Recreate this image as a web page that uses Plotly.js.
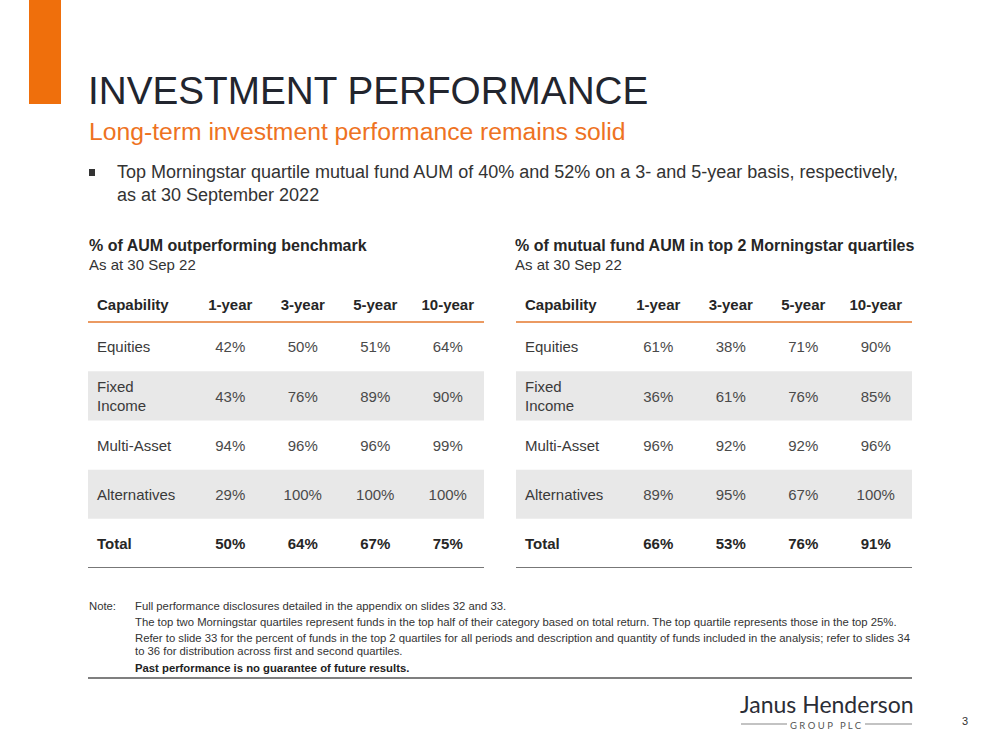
<!DOCTYPE html>
<html><head><meta charset="utf-8">
<script src="https://cdn.plot.ly/plotly-3.0.1.min.js"></script>
<style>html,body{margin:0;padding:0;background:#fff}</style>
</head><body><div id="chart" style="width:999px;height:750px"></div>
<script>
// ---- data ----
const capabilities = ["Equities", "Fixed<br>Income", "Multi-Asset", "Alternatives", "Total"];
const periods = ["1-year", "3-year", "5-year", "10-year"];
const firstHeader = "Capability";
// % of AUM outperforming benchmark
const aum1y = [42, 43, 94, 29, 50];
const aum3y = [50, 76, 96, 100, 64];
const aum5y = [51, 89, 96, 100, 67];
const aum10y = [64, 90, 99, 100, 75];
// % of mutual fund AUM in top 2 Morningstar quartiles
const mf1y = [61, 36, 96, 89, 66];
const mf3y = [38, 61, 92, 95, 53];
const mf5y = [71, 76, 92, 67, 76];
const mf10y = [90, 85, 96, 100, 91];

const title = "INVESTMENT PERFORMANCE";
const subtitle = "Long-term investment performance remains solid";
const bullet = "Top Morningstar quartile mutual fund AUM of 40% and 52% on a 3- and 5-year basis, respectively,<br>as at 30 September 2022";
const leftTitle = "% of AUM outperforming benchmark";
const rightTitle = "% of mutual fund AUM in top 2 Morningstar quartiles";
const asAt = "As at 30 Sep 22";
const noteLabel = "Note:";
const notes = [
  "Full performance disclosures detailed in the appendix on slides 32 and 33.",
  "The top two Morningstar quartiles represent funds in the top half of their category based on total return. The top quartile represents those in the top 25%.",
  "Refer to slide 33 for the percent of funds in the top 2 quartiles for all periods and description and quantity of funds included in the analysis; refer to slides 34",
  "to 36 for distribution across first and second quartiles.",
  "<b>Past performance is no guarantee of future results.</b>"
];
const logoMain = "Janus Henderson";
const logoSub = "G R O U P   P L C";
const pageNum = "3";

// ---- layout helpers ----
const W = 999, H = 750;
const F = "Liberation Sans, Arial, sans-serif";
const DARK = "#22252e", TXT = "#3a3a3a", ORANGE = "#ee7222";
const colPx = 72.5, firstPx = 106, rowPx = 49, hdrPx = 32;
const xr = [0.5 - firstPx / colPx, 4.5];
const labelX = xr[0] + 9 / colPx;
const hdrH = hdrPx / rowPx;
const hdrY = -0.5 - hdrH / 2;
const yr = [4.5, -0.5 - hdrH];
const rowShift = 2 / rowPx;   // body text sits a touch below row centre
const py = v => 1 - v / H, px = v => v / W;

function tableTraces(cols, xa, ya) {
  const tr = [];
  const fs = 15;
  tr.push({
    type: "scatter", mode: "text", xaxis: xa, yaxis: ya, hoverinfo: "skip", showlegend: false,
    x: [labelX].concat(periods.map((p, i) => i + 1)),
    y: [hdrY, hdrY, hdrY, hdrY, hdrY],
    text: [firstHeader].concat(periods).map(t => "<b>" + t + "</b>"),
    textposition: ["middle right", "middle center", "middle center", "middle center", "middle center"],
    textfont: {family: F, size: fs, color: "#262626"}
  });
  tr.push({
    type: "scatter", mode: "text", xaxis: xa, yaxis: ya, hoverinfo: "skip", showlegend: false,
    x: capabilities.map(() => labelX),
    y: capabilities.map((c, i) => i + rowShift),
    text: capabilities.map((c, i) => i === capabilities.length - 1 ? "<b>" + c + "</b>" : c),
    textposition: "middle right",
    textfont: {family: F, size: fs, color: capabilities.map((c, i) => i === capabilities.length - 1 ? "#262626" : TXT)}
  });
  cols.forEach((vals, j) => {
    tr.push({
      type: "scatter", mode: "text", xaxis: xa, yaxis: ya, hoverinfo: "skip", showlegend: false,
      x: vals.map(() => j + 1),
      y: vals.map((v, i) => i + rowShift),
      text: vals.map((v, i) => i === vals.length - 1 ? "<b>" + v + "%</b>" : v + "%"),
      textposition: "middle center",
      textfont: {family: F, size: fs, color: vals.map((v, i) => i === vals.length - 1 ? "#262626" : "#4a4a4a")}
    });
  });
  return tr;
}

const data = [].concat(
  tableTraces([aum1y, aum3y, aum5y, aum10y], "x", "y"),
  tableTraces([mf1y, mf3y, mf5y, mf10y], "x2", "y2")
);

const axX = d => ({domain: d, range: xr, visible: false, fixedrange: true, zeroline: false, showgrid: false});
const axY = {domain: [py(568), py(290)], range: yr, autorange: false, visible: false, fixedrange: true, zeroline: false, showgrid: false};

const shapes = [];
// orange bar top-left
shapes.push({type: "rect", xref: "paper", yref: "paper", x0: px(29), x1: px(61), y0: py(104), y1: py(0), fillcolor: "#ef6f0c", line: {width: 0}});
// bullet square
shapes.push({type: "rect", xref: "paper", yref: "paper", x0: px(89), x1: px(95), y0: py(176), y1: py(169), fillcolor: "#333", line: {width: 0}});
[["x", "y"], ["x2", "y2"]].forEach(([xa, ya]) => {
  [1, 3].forEach(i => shapes.push({type: "rect", xref: xa + " domain", yref: ya, x0: 0, x1: 1, y0: i - 0.5, y1: i + 0.5, fillcolor: "#e8e8e8", line: {width: 0}, layer: "below"}));
  shapes.push({type: "line", xref: xa + " domain", yref: ya, x0: 0, x1: 1, y0: -0.5, y1: -0.5, line: {color: "#eb9a62", width: 2}});
  shapes.push({type: "line", xref: xa + " domain", yref: ya, x0: 0, x1: 1, y0: 4.5, y1: 4.5, line: {color: "#4a4a4a", width: 1.3}});
});
// notes rule
shapes.push({type: "line", xref: "paper", yref: "paper", x0: px(88), x1: px(912), y0: py(678), y1: py(678), line: {color: "#555", width: 1.3}});
// logo rules
shapes.push({type: "line", xref: "paper", yref: "paper", x0: px(741), x1: px(787), y0: py(724), y1: py(724), line: {color: "#888", width: 1.2}});
shapes.push({type: "line", xref: "paper", yref: "paper", x0: px(865), x1: px(912), y0: py(724), y1: py(724), line: {color: "#888", width: 1.2}});

function ann(text, x, y, size, color, extra) {
  return Object.assign({text: text, xref: "paper", yref: "paper", x: px(x), y: py(y), xanchor: "left", yanchor: "middle",
    showarrow: false, align: "left", font: {family: F, size: size, color: color}}, extra || {});
}
const annotations = [
  ann(title, 86, 91, 38.7, DARK),
  ann(subtitle, 87, 132, 24.7, ORANGE),
  ann(bullet, 115, 184, 18, "#333"),
  ann("<b>" + leftTitle + "</b>", 87, 245, 16, "#262626"),
  ann(asAt, 87, 265, 15, "#333"),
  ann("<b>" + rightTitle + "</b>", 513, 245, 16, "#262626"),
  ann(asAt, 513, 265, 15, "#333"),
  ann(noteLabel, 87, 606, 11.3, "#333"),
  ann(notes[0], 133, 606, 11.3, "#333"),
  ann(notes[1], 133, 622, 11.3, "#333"),
  ann(notes[2], 133, 638, 11.3, "#333"),
  ann(notes[3], 133, 651, 11.3, "#333"),
  ann(notes[4], 133, 668, 11.3, "#222"),
  ann(logoMain, 739, 719, 23, "#2b2d36", {yanchor: "bottom", borderpad: 0, font: {family: "Lato, sans-serif", size: 23, color: "#2b2d36"}}),
  ann(logoSub, 826, 719, 9.5, "#555", {xanchor: "center", yanchor: "top", borderpad: 0, font: {family: "Lato, sans-serif", size: 9.5, color: "#555"}}),
  ann(pageNum, 965, 721, 11, "#333", {xanchor: "center"})
];

const layout = {
  width: W, height: H, margin: {l: 0, r: 0, t: 0, b: 0},
  paper_bgcolor: "#fff", plot_bgcolor: "rgba(0,0,0,0)",
  showlegend: false,
  xaxis: Object.assign({anchor: "y"}, axX([px(88), px(484)])), yaxis: Object.assign({anchor: "x"}, axY),
  xaxis2: Object.assign({anchor: "y2"}, axX([px(516), px(912)])), yaxis2: Object.assign({anchor: "x2"}, axY),
  shapes: shapes, annotations: annotations
};
Plotly.newPlot("chart", data, layout, {displayModeBar: false, staticPlot: true});
</script></body></html>
